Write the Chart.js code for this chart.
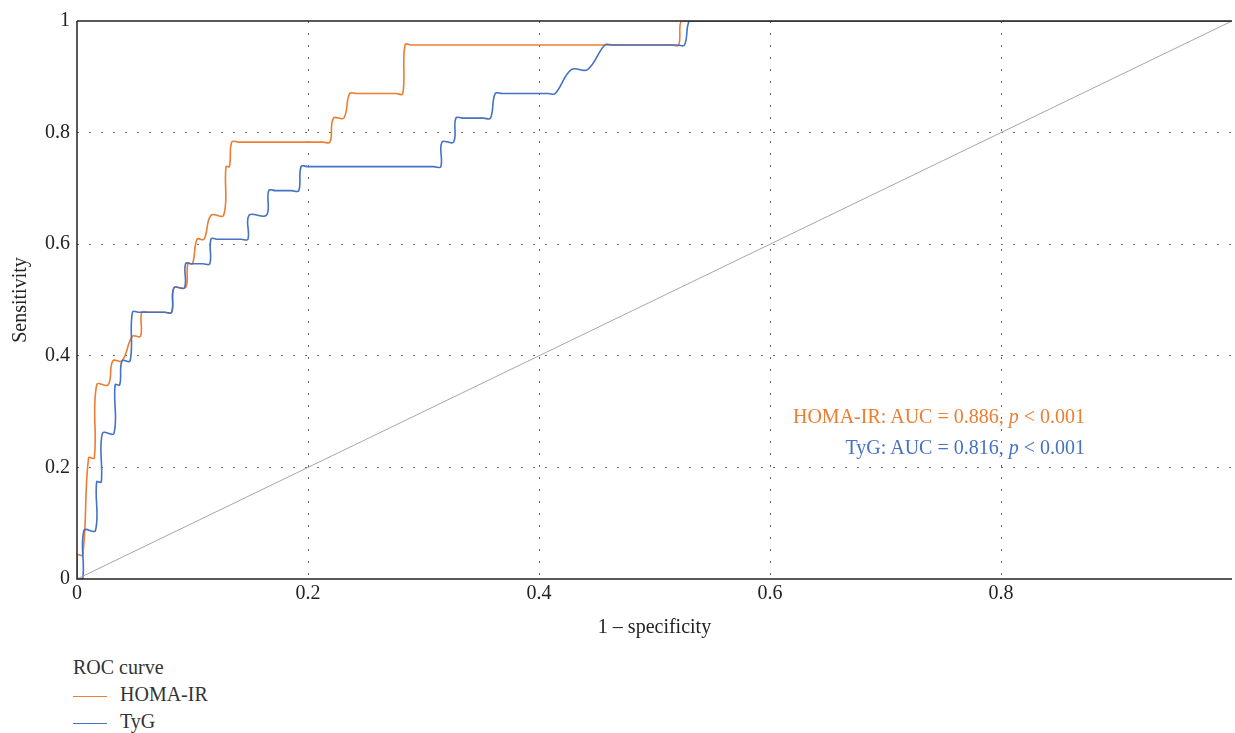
<!DOCTYPE html>
<html>
<head>
<meta charset="utf-8">
<script src="https://cdn.jsdelivr.net/npm/chart.js@4.4.1/dist/chart.umd.min.js"></script>
<style>
  html, body { margin: 0; padding: 0; background: #fff; overflow: hidden; }
  #wrap { position: relative; width: 1235px; height: 733px; font-family: "Liberation Serif", "DejaVu Serif", serif; color: #333; }
  #chart { position: absolute; left: 0; top: 0; }
  .auc { position: absolute; right: 150px; font-size: 20px; line-height: 23px; white-space: nowrap; }
  .legend { position: absolute; left: 73px; font-size: 20px; line-height: 23px; }
  .item { position: absolute; left: 73px; font-size: 20px; line-height: 23px; white-space: nowrap; }
  .item span.swatch { display: inline-block; width: 34px; height: 0; border-top: 1.5px solid; vertical-align: middle; margin-right: 13px; }
</style>
</head>
<body>
<div id="wrap">
  <canvas id="chart" width="1235" height="650"></canvas>
  <div class="auc" style="top:405px; color:#ed7d31;">HOMA-IR: AUC = 0.886, <i>p</i> &lt; 0.001</div>
  <div class="auc" style="top:436px; color:#4472c4;">TyG: AUC = 0.816, <i>p</i> &lt; 0.001</div>
  <div class="legend" style="top:656px;">ROC curve</div>
  <div class="item" style="top:683px;"><span class="swatch" style="border-color:#ed7d31;"></span>HOMA-IR</div>
  <div class="item" style="top:710px;"><span class="swatch" style="border-color:#4472c4;"></span>TyG</div>
</div>
<script>
// ROC points (1 - specificity, sensitivity)
const homaFpr = [0, 0, 0.005, 0.010, 0.015, 0.017, 0.027, 0.031, 0.039, 0.048, 0.055, 0.056,
  0.062, 0.076,
  0.082, 0.084, 0.094, 0.096, 0.100, 0.104, 0.110, 0.116, 0.127, 0.129, 0.132, 0.134,
  0.140, 0.213,
  0.219, 0.222, 0.231, 0.236,
  0.242, 0.276,
  0.282, 0.284,
  0.290, 0.515,
  0.521, 0.523,
  0.530, 1];
const homaTpr = [0, 0.043, 0.043, 0.217, 0.217, 0.348, 0.348, 0.391, 0.391, 0.435, 0.435, 0.478,
  0.478, 0.478,
  0.478, 0.522, 0.522, 0.565, 0.565, 0.609, 0.609, 0.652, 0.652, 0.739, 0.739, 0.783,
  0.783, 0.783,
  0.783, 0.826, 0.826, 0.870,
  0.870, 0.870,
  0.870, 0.957,
  0.957, 0.957,
  0.957, 1,
  1, 1];

const tygFpr = [0, 0.005, 0.006, 0.016, 0.017, 0.021, 0.022, 0.032, 0.033, 0.037, 0.039, 0.046, 0.048,
  0.054, 0.076,
  0.082, 0.084, 0.093, 0.094,
  0.100, 0.109,
  0.115, 0.116,
  0.122, 0.142,
  0.148, 0.149, 0.164, 0.166,
  0.172, 0.186,
  0.192, 0.194,
  0.200, 0.309,
  0.315, 0.316, 0.326, 0.328,
  0.334, 0.352,
  0.358, 0.362,
  0.368, 0.408,
  0.414, 0.428, 0.442, 0.457,
  0.463, 0.520,
  0.526, 0.530,
  0.536, 1];
const tygTpr = [0, 0, 0.087, 0.087, 0.174, 0.174, 0.261, 0.261, 0.348, 0.348, 0.391, 0.391, 0.478,
  0.478, 0.478,
  0.478, 0.522, 0.522, 0.565,
  0.565, 0.565,
  0.565, 0.609,
  0.609, 0.609,
  0.609, 0.652, 0.652, 0.696,
  0.696, 0.696,
  0.696, 0.739,
  0.739, 0.739,
  0.739, 0.783, 0.783, 0.826,
  0.826, 0.826,
  0.826, 0.870,
  0.870, 0.870,
  0.870, 0.913, 0.913, 0.957,
  0.957, 0.957,
  0.957, 1,
  1, 1];

const refX = [0, 1];
const refY = [0, 1];

const toPoints = (xs, ys) => xs.map((x, i) => ({ x: x, y: ys[i] }));

const FONT = "'Liberation Serif', 'DejaVu Serif', serif";

// frame: left, bottom and top lines
const framePlugin = {
  id: 'frame',
  afterDraw(chart) {
    const { ctx, chartArea: a } = chart;
    ctx.save();
    ctx.strokeStyle = '#222';
    ctx.lineWidth = 1.5;
    ctx.beginPath();
    ctx.moveTo(a.left, a.top);
    ctx.lineTo(a.right, a.top);
    ctx.moveTo(a.left, a.top);
    ctx.lineTo(a.left, a.bottom);
    ctx.lineTo(a.right, a.bottom);
    ctx.stroke();
    ctx.restore();
  }
};

const gridColor = c => (c.tick && (c.tick.value === 0 || c.tick.value === 1)) ? 'rgba(0,0,0,0)' : '#666';

new Chart(document.getElementById('chart'), {
  type: 'line',
  data: {
    datasets: [
      {
        label: 'reference',
        data: toPoints(refX, refY),
        borderColor: '#a6a6a6',
        borderWidth: 1,
        pointRadius: 0,
        tension: 0
      },
      {
        label: 'TyG',
        data: toPoints(tygFpr, tygTpr),
        borderColor: '#4472c4',
        borderWidth: 1.6,
        pointRadius: 0,
        tension: 0.4
      },
      {
        label: 'HOMA-IR',
        data: toPoints(homaFpr, homaTpr),
        borderColor: '#ed7d31',
        borderWidth: 1.6,
        pointRadius: 0,
        tension: 0.4
      }
    ]
  },
  options: {
    responsive: false,
    animation: false,
    layout: { padding: { top: 21, right: 0, left: 0, bottom: 0 } },
    plugins: { legend: { display: false }, tooltip: { enabled: false } },
    scales: {
      x: {
        type: 'linear',
        min: 0,
        max: 1,
        afterFit: s => { s.height = 71; },
        ticks: {
          stepSize: 0.2,
          padding: 3,
          color: '#222',
          font: { family: FONT, size: 20 },
          maxRotation: 0,
          callback: v => (v === 1 ? '' : String(Math.round(v * 10) / 10))
        },
        grid: { color: gridColor, lineWidth: 1, drawTicks: false },
        border: { display: false, dash: [2, 10] },
        title: {
          display: true,
          text: '1 – specificity',
          color: '#222',
          font: { family: FONT, size: 20 },
          padding: { top: 0, bottom: 10 }
        }
      },
      y: {
        type: 'linear',
        min: 0,
        max: 1,
        afterFit: s => { s.width = 77; },
        ticks: {
          stepSize: 0.2,
          padding: 7,
          color: '#222',
          font: { family: FONT, size: 20 },
          callback: v => String(Math.round(v * 10) / 10)
        },
        grid: { color: gridColor, lineWidth: 1, drawTicks: false },
        border: { display: false, dash: [2, 10] },
        title: {
          display: true,
          text: 'Sensitivity',
          color: '#222',
          font: { family: FONT, size: 20 },
          padding: { top: 9, bottom: 0 }
        }
      }
    }
  },
  plugins: [framePlugin]
});
</script>
</body>
</html>
